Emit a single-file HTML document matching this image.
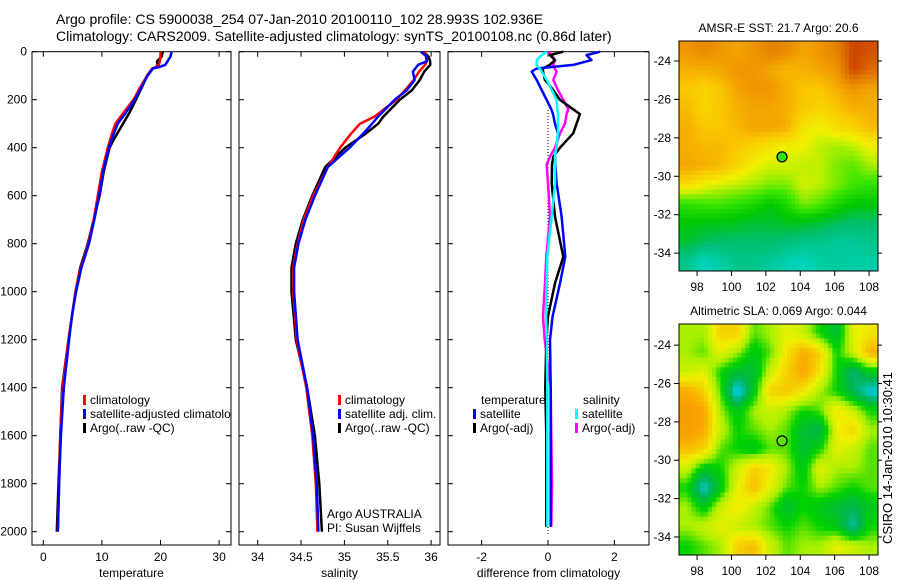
<!DOCTYPE html>
<html><head><meta charset="utf-8"><style>
body{margin:0;background:#fff}
svg{display:block;font-family:"Liberation Sans",sans-serif}
</style></head><body>
<svg id="fig" width="900" height="580" viewBox="0 0 900 580">
<text x="56" y="24" font-size="14">Argo profile: CS 5900038_254 07-Jan-2010 20100110_102 28.993S 102.936E</text>
<text x="56" y="41" font-size="14">Climatology: CARS2009. Satellite-adjusted climatology: synTS_20100108.nc (0.86d later)</text>
<g id="g1"></g>
<g id="g2"></g>
<g id="g3"></g>
<g id="m1"></g>
<g id="m2"></g>
<text transform="translate(892,458) rotate(-90)" text-anchor="middle" font-size="13">CSIRO 14-Jan-2010 10:30:41</text>
</svg>
<script>
// ---- data ----
const depthT = [0,20,40,55,65,70,100,150,200,250,300,350,400,500,600,700,800,900,1000,1100,1200,1400,1600,1800,2000];
const climT = [20.0,20.0,19.9,19.7,19.2,18.6,17.7,16.5,15.4,13.8,12.3,11.6,11.0,10.0,9.3,8.6,7.7,6.4,5.5,4.9,4.3,3.3,2.9,2.7,2.45];
const satT  = [21.9,21.7,21.2,20.8,19.6,18.7,17.8,16.7,15.6,14.2,12.7,11.9,11.2,10.2,9.5,8.7,7.8,6.5,5.6,4.9,4.4,3.5,3.0,2.7,2.5];
const argoT = [20.4,20.2,19.4,19.5,19.2,18.6,17.7,16.8,15.8,14.8,13.6,12.4,11.3,10.3,9.6,8.6,7.6,6.3,5.5,4.9,4.3,3.2,2.9,2.6,2.3];

const depthS = [0,20,40,55,83,118,160,200,270,300,340,400,480,600,700,800,900,1000,1200,1400,1600,1800,2000];
const climS = [35.93,35.94,35.95,35.93,35.86,35.80,35.70,35.60,35.35,35.18,35.08,34.95,34.81,34.64,34.53,34.46,34.41,34.41,34.45,34.56,34.63,34.67,34.69];
const satS  = [35.88,35.95,35.95,35.85,35.79,35.81,35.72,35.58,35.39,35.32,35.22,35.06,34.81,34.66,34.55,34.47,34.42,34.42,34.46,34.57,34.64,34.68,34.70];
const argoS = [35.91,35.97,35.99,35.99,35.92,35.87,35.78,35.64,35.45,35.39,35.25,35.01,34.78,34.63,34.52,34.44,34.39,34.39,34.44,34.57,34.66,34.71,34.74];

const depthD = [0,14,35,55,70,83,118,160,201,240,260,300,340,400,437,470,548,687,854,965,1103,1200,1400,1600,1800,1980];
const diffTempSat  = [1.57,1.16,1.31,0.76,-0.34,-0.49,-0.34,-0.19,-0.04,0.1,0.15,0.21,0.3,0.25,0.21,0.22,0.26,0.41,0.52,0.36,0.14,0.06,0.08,0.08,0.08,0.08];
const diffTempArgo = [0.46,0.06,0.21,0.05,-0.15,-0.15,-0.09,0.16,0.36,0.76,0.96,0.86,0.76,0.36,0.16,0.12,0.11,0.21,0.46,0.21,0,-0.05,-0.08,-0.05,-0.05,-0.05];
const diffSalSat   = [-0.04,-0.19,-0.34,-0.34,-0.25,-0.19,-0.04,0.11,0.26,0.28,0.3,0.3,0.3,0.25,0.21,0.21,0.21,0.11,-0.02,-0.04,-0.06,-0.04,-0.02,-0.02,-0.02,-0.02];
const diffSalArgo  = [0,0.11,0.21,0.16,0.2,0.26,0.16,0.3,0.46,0.61,0.56,0.51,0.36,0.21,0.06,-0.04,0,0.06,-0.05,-0.09,-0.15,-0.1,0.08,0.1,0.12,0.1];

const depthTicks = [0,200,400,600,800,1000,1200,1400,1600,1800,2000];
const tempTicks = [0,10,20,30];
const salTicks = [34,34.5,35,35.5,36];
const diffTicks = [-2,0,2];
const lonTicks = [98,100,102,104,106,108];
const latTicks = [-24,-26,-28,-30,-32,-34];

const sstGrid = [
[0.75,0.78,0.75,0.72,0.75,0.8,0.78,0.72,0.75,0.8,0.92,0.9],
[0.7,0.7,0.72,0.75,0.75,0.72,0.68,0.7,0.72,0.75,0.92,0.85],
[0.65,0.62,0.65,0.72,0.75,0.75,0.7,0.65,0.65,0.7,0.75,0.72],
[0.68,0.62,0.65,0.7,0.72,0.72,0.7,0.65,0.62,0.65,0.7,0.7],
[0.7,0.65,0.65,0.68,0.72,0.72,0.7,0.58,0.55,0.6,0.62,0.68],
[0.7,0.68,0.68,0.65,0.62,0.58,0.55,0.55,0.5,0.48,0.5,0.55],
[0.72,0.7,0.68,0.62,0.55,0.52,0.52,0.5,0.5,0.45,0.42,0.48],
[0.6,0.55,0.52,0.5,0.48,0.45,0.45,0.52,0.5,0.45,0.4,0.38],
[0.38,0.4,0.4,0.38,0.35,0.3,0.35,0.45,0.42,0.35,0.3,0.3],
[0.3,0.28,0.28,0.27,0.25,0.25,0.27,0.27,0.25,0.22,0.2,0.2],
[0.25,0.22,0.2,0.2,0.2,0.2,0.18,0.15,0.15,0.12,0.12,0.15],
[0.15,0.05,0.1,0.15,0.15,0.12,0.08,0.05,0.1,0.12,0.1,0.1]];
const slaGrid = [
[0.5,0.5,0.7,0.7,0.45,0.5,0.6,0.55,0.4,0.3,0.6,0.65],
[0.5,0.45,0.6,0.5,0.35,0.45,0.65,0.8,0.7,0.4,0.55,0.78],
[0.55,0.6,0.4,0.3,0.3,0.55,0.7,0.82,0.65,0.4,0.2,0.35],
[0.8,0.7,0.45,0.05,0.35,0.7,0.72,0.65,0.5,0.4,0.25,0.1],
[0.85,0.82,0.5,0.35,0.5,0.55,0.5,0.4,0.45,0.65,0.55,0.4],
[0.85,0.8,0.55,0.4,0.45,0.5,0.45,0.3,0.25,0.6,0.7,0.5],
[0.75,0.7,0.45,0.4,0.35,0.45,0.45,0.3,0.4,0.6,0.55,0.45],
[0.55,0.35,0.4,0.55,0.7,0.65,0.5,0.35,0.6,0.5,0.5,0.45],
[0.4,0.1,0.35,0.6,0.75,0.6,0.45,0.4,0.5,0.45,0.4,0.45],
[0.5,0.35,0.55,0.65,0.55,0.45,0.3,0.4,0.35,0.3,0.25,0.35],
[0.5,0.55,0.6,0.55,0.5,0.45,0.4,0.45,0.4,0.35,0.15,0.4],
[0.4,0.45,0.5,0.7,0.75,0.55,0.45,0.5,0.5,0.6,0.55,0.5]];
const argoLon = [102.94];
const argoLat = [-28.99];

// ---- helpers ----
const NS = 'http://www.w3.org/2000/svg';
function mk(parent, tag, attrs, text){
  const e = document.createElementNS(NS, tag);
  for (const k in attrs) e.setAttribute(k, attrs[k]);
  if (text !== undefined) e.textContent = text;
  parent.appendChild(e);
  return e;
}
const Y0 = 51.7, PXM = 0.24, PB = 545;
const yD = d => Y0 + PXM * d;

function panel(g, x0, x1, xs, xticks, xtitle, showDepth){
  const fr = mk(g,'rect',{x:x0,y:Y0,width:x1-x0,height:PB-Y0,fill:'none',stroke:'#000','stroke-width':1});
  
  
  xticks.forEach(t => {
    const x = xs(t);
    mk(g,'line',{x1:x,x2:x,y1:PB,y2:PB-5,stroke:'#000'});
    mk(g,'line',{x1:x,x2:x,y1:Y0,y2:Y0+5,stroke:'#000'});
    const lb = mk(g,'text',{x:x,y:561,'text-anchor':'middle','font-size':12}, String(t));
    
    
  });
  const tt = mk(g,'text',{x:(x0+x1)/2,y:577,'text-anchor':'middle','font-size':12}, xtitle);
  
  
  depthTicks.forEach(d => {
    const y = yD(d);
    mk(g,'line',{x1:x0,x2:x0+5,y1:y,y2:y,stroke:'#000'});
    mk(g,'line',{x1:x1,x2:x1-5,y1:y,y2:y,stroke:'#000'});
    if (showDepth){
      const lb = mk(g,'text',{x:27,y:y+4,'text-anchor':'end','font-size':12}, String(d));
      
      
    }
  });
}
function line(g, xs, depths, vals, color, name, w, dash){
  const pts = depths.map((d,i)=> xs(vals[i]).toFixed(1)+','+yD(d).toFixed(1)).join(' ');
  const p = mk(g,'polyline',{points:pts,fill:'none',stroke:color,'stroke-width':w||2.5,'stroke-linejoin':'round'});
  if (dash) p.setAttribute('stroke-dasharray', dash);
  
  
}
function legend(g, x, y, color, label){
  mk(g,'rect',{x:x,y:y-9,width:3,height:10,fill:color});
  const t = mk(g,'text',{x:x+7,y:y,'font-size':12}, label);
  
  
}

// ---- panel 1 temperature ----
const g1 = document.getElementById('g1');
const xT = v => 43.3 + 5.86 * v;
panel(g1, 32, 231, xT, tempTicks, 'temperature', true);
const c1 = mk(g1,'clipPath',{id:'cp1'}); mk(c1,'rect',{x:32,y:Y0,width:199,height:PB-Y0});
const l1 = mk(g1,'g',{'clip-path':'url(#cp1)'});
line(l1,xT,depthT,argoT,'#000','argo-temperature-line');
line(l1,xT,depthT,climT,'#f00','climatology-temperature-line');
line(l1,xT,depthT,satT,'#00f','satellite-temperature-line');
legend(l1,83,404,'#f00','climatology');
legend(l1,83,418,'#00f','satellite-adjusted climatology');
legend(l1,83,432,'#000','Argo(..raw -QC)');

// ---- panel 2 salinity ----
const g2 = document.getElementById('g2');
const xS = v => 257.7 + 86.7 * (v - 34);
panel(g2, 239, 440, xS, salTicks, 'salinity', false);
line(g2,xS,depthS,argoS,'#000','argo-salinity-line');
line(g2,xS,depthS,climS,'#f00','climatology-salinity-line');
line(g2,xS,depthS,satS,'#00f','satellite-salinity-line');
legend(g2,338,404,'#f00','climatology');
legend(g2,338,418,'#00f','satellite adj. clim.');
legend(g2,338,432,'#000','Argo(..raw -QC)');
const a1 = mk(g2,'text',{x:327,y:518,'font-size':12},'Argo AUSTRALIA');


const a2 = mk(g2,'text',{x:327,y:532,'font-size':12},'PI: Susan Wijffels');



// ---- panel 3 differences ----
const g3 = document.getElementById('g3');
const xDf = v => 548 + 33.2 * v;
panel(g3, 448, 649, xDf, diffTicks, 'difference from climatology', false);
mk(g3,'line',{x1:548,x2:548,y1:110,y2:535,stroke:'#000','stroke-dasharray':'1,2'});
line(g3,xDf,depthD,diffSalArgo,'#f0f','argo-salinity-diff-line');
line(g3,xDf,depthD,diffTempArgo,'#000','argo-temperature-diff-line');
line(g3,xDf,depthD,diffTempSat,'#00f','satellite-temperature-diff-line');
line(g3,xDf,depthD,diffSalSat,'#0ff','satellite-salinity-diff-line');
const lt = mk(g3,'text',{x:481,y:404,'font-size':12},'temperature');


const ls = mk(g3,'text',{x:583,y:404,'font-size':12},'salinity');


legend(g3,473,418,'#00f','satellite');
legend(g3,473,432,'#000','Argo(-adj)');
legend(g3,575,418,'#0ff','satellite');
legend(g3,575,432,'#f0f','Argo(-adj)');

// ---- maps ----
function cmapSST(v){
  const s=[[0,[0,220,220]],[0.2,[0,190,110]],[0.3,[0,200,0]],[0.4,[60,230,0]],[0.5,[190,240,0]],[0.55,[240,240,0]],[0.65,[250,200,0]],[0.75,[240,150,0]],[0.85,[220,110,0]],[1,[190,20,0]]];
  return interp(s,v);
}
function cmapSLA(v){
  const s=[[0,[0,160,255]],[0.12,[0,200,200]],[0.25,[0,180,80]],[0.4,[0,210,0]],[0.5,[170,240,0]],[0.62,[240,240,0]],[0.8,[250,170,0]],[1,[240,120,0]]];
  return interp(s,v);
}
function interp(s,v){
  v=Math.max(0,Math.min(1,v));
  for(let i=1;i<s.length;i++){ if(v<=s[i][0]){ const f=(v-s[i-1][0])/(s[i][0]-s[i-1][0]);
    const a=s[i-1][1],b=s[i][1]; return 'rgb('+a.map((c,k)=>Math.round(c+(b[k]-c)*f)).join(',')+')'; } }
  return 'rgb('+s[s.length-1][1].join(',')+')';
}
function drawMap(g, grid, cmap, x0,x1,y0,y1, lonL,lonR,latT,latB, title, filled){
  const xL = lon => x0 + (lon-lonL)/(lonR-lonL)*(x1-x0);
  const yL = lat => y0 + (latT-lat)/(latT-latB)*(y1-y0);
  const n = grid.length, m = grid[0].length, sub = 4;
  const N = n*sub, M = m*sub, cw=(x1-x0)/M, ch=(y1-y0)/N;
  const samp = (gy,gx)=>{
    const fy=Math.max(0,Math.min(n-1,gy)), fx=Math.max(0,Math.min(m-1,gx));
    const i0=Math.floor(fy), j0=Math.floor(fx), i1=Math.min(n-1,i0+1), j1=Math.min(m-1,j0+1);
    const ty=fy-i0, tx=fx-j0;
    return grid[i0][j0]*(1-ty)*(1-tx)+grid[i0][j1]*(1-ty)*tx+grid[i1][j0]*ty*(1-tx)+grid[i1][j1]*ty*tx;
  };
  for(let r=0;r<N;r++) for(let c=0;c<M;c++){
    const v = samp((r+0.5)/sub-0.5,(c+0.5)/sub-0.5);
    const cell = mk(g,'rect',{x:(x0+c*cw).toFixed(2),y:(y0+r*ch).toFixed(2),width:(cw+0.4).toFixed(2),height:(ch+0.4).toFixed(2),fill:cmap(v)});
    
    
  }
  mk(g,'rect',{x:x0,y:y0,width:x1-x0,height:y1-y0,fill:'none',stroke:'#000','stroke-width':1});
  lonTicks.forEach(t=>{ const x=xL(t);
    mk(g,'line',{x1:x,x2:x,y1:y1,y2:y1+5,stroke:'#000'});
    const lb=mk(g,'text',{x:x,y:y1+20,'text-anchor':'middle','font-size':12},String(t));
    
    
  });
  latTicks.forEach(t=>{ const y=yL(t);
    mk(g,'line',{x1:x0,x2:x0-5,y1:y,y2:y,stroke:'#000'});
    mk(g,'line',{x1:x1,x2:x1+4,y1:y,y2:y,stroke:'#000'});
    const lb=mk(g,'text',{x:x0-8,y:y+4,'text-anchor':'end','font-size':12},String(t));
    
    
  });
  const tt=mk(g,'text',{x:(x0+x1)/2,y:y0-9,'text-anchor':'middle','font-size':12},title);
  
  
  const dot=mk(g,'circle',{cx:xL(argoLon[0]),cy:yL(argoLat[0]),r:5,fill:filled?'#33dd11':'none',stroke:'#000','stroke-width':1.2});
  
  
}
drawMap(document.getElementById('m1'), sstGrid, cmapSST, 679,878,41,271, 96.95,108.52,-22.96,-34.93, 'AMSR-E SST: 21.7 Argo: 20.6', true);
drawMap(document.getElementById('m2'), slaGrid, cmapSLA, 679,878,324,555, 96.95,108.52,-22.9,-34.94, 'Altimetric SLA: 0.069 Argo: 0.044', false);
</script>
</body></html>
